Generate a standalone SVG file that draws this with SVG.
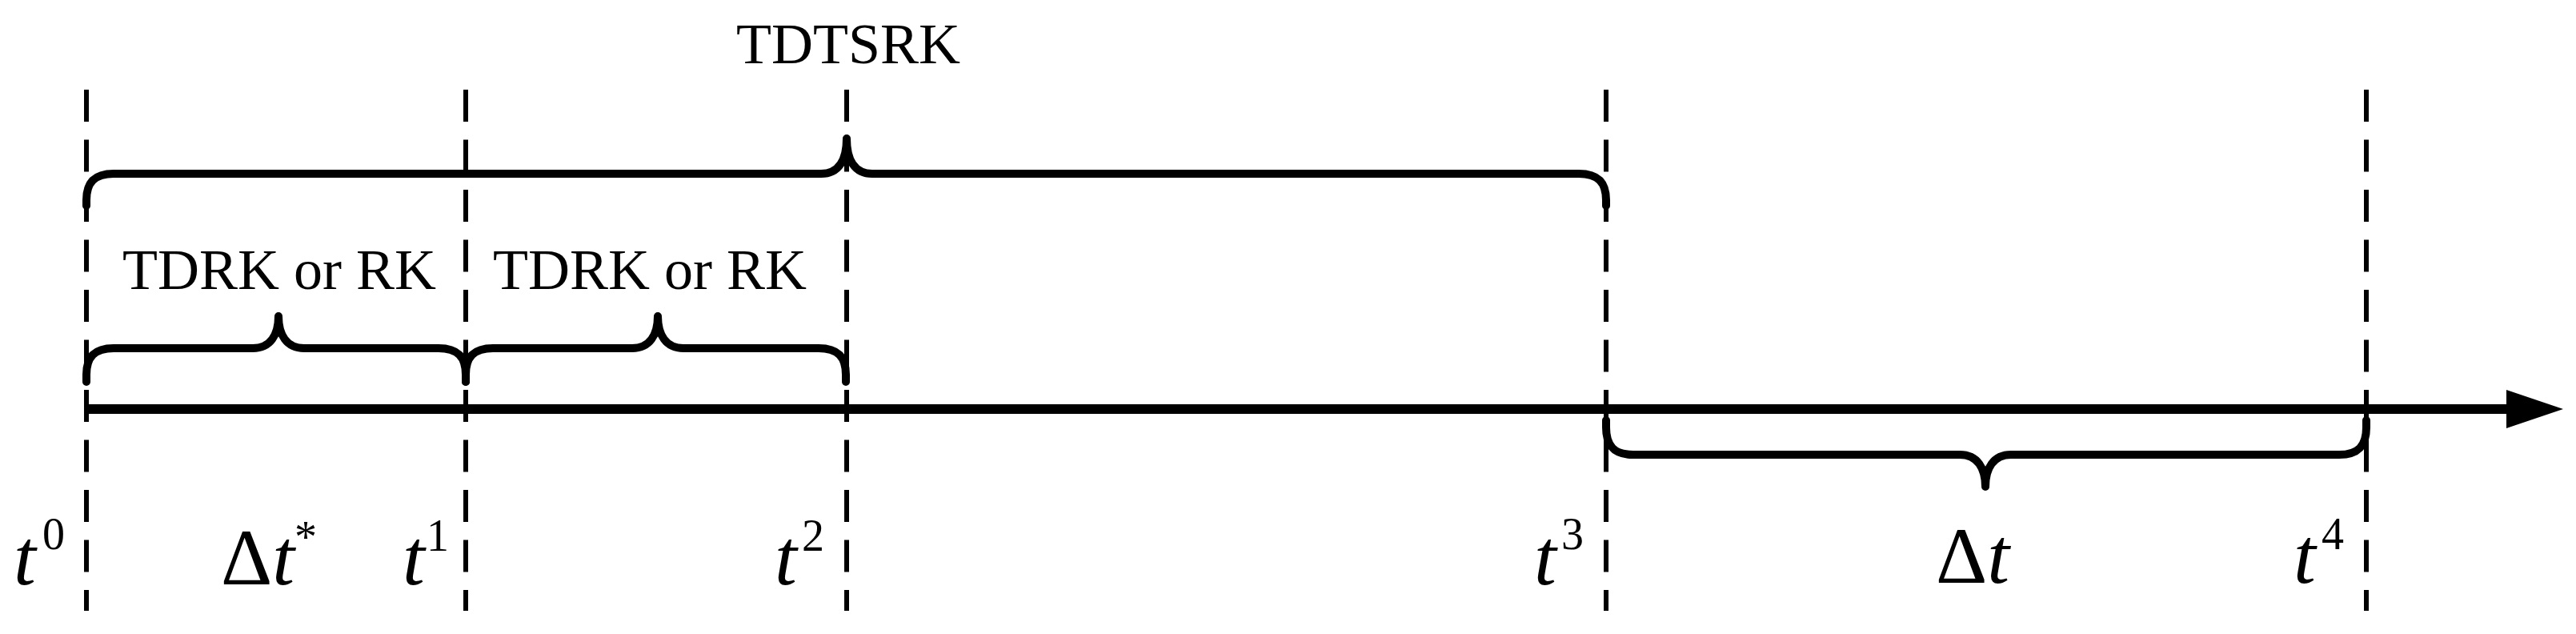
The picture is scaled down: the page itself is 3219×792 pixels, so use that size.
<svg xmlns="http://www.w3.org/2000/svg" width="3219" height="792" viewBox="0 0 3219 792">
<style>
.dash{stroke:#000;stroke-width:6;stroke-dasharray:40 22.5;fill:none}
.brace{stroke:#000;stroke-width:10;fill:none;stroke-linecap:round;stroke-linejoin:round}
.lbl{font-family:"Liberation Serif","Times New Roman",serif;font-size:72px;fill:#000}
.sym{font-family:"Liberation Serif","Times New Roman",serif;font-size:100px;font-style:italic;fill:#000}
.delta{font-style:normal}
.sup{font-family:"Liberation Serif","Times New Roman",serif;font-size:56px;font-style:normal;fill:#000}
</style>
<defs>
<marker id="arrow" markerUnits="userSpaceOnUse" markerWidth="72" markerHeight="48" refX="0" refY="24" orient="auto">
<path d="M0,0 L71,24 L0,48 Z" fill="#000"/>
</marker>
</defs>
<rect width="3219" height="792" fill="#fff"/>
<g id="connectors">
<line class="dash" x1="108" y1="112" x2="108" y2="763"/>
<line class="dash" x1="582" y1="112" x2="582" y2="763"/>
<line class="dash" x1="1058" y1="112" x2="1058" y2="763"/>
<line class="dash" x1="2007" y1="112" x2="2007" y2="763"/>
<line class="dash" x1="2957" y1="112" x2="2957" y2="763"/>
<line id="axis" x1="108" y1="511" x2="3132" y2="511" stroke="#000" stroke-width="12" marker-end="url(#arrow)"/>
</g>
<g id="brace-tdtsrk">
<path class="brace" d="M108,257 L108,250 C108,228 118,217 142,217 L1026,217 C1048,217 1058,200 1058,173 C1058,200 1068,217 1090,217 L1973,217 C1997,217 2007,228 2007,250 L2007,257"/>
<text class="lbl" x="1060" y="79" text-anchor="middle">TDTSRK</text>
</g>
<g id="brace-rk1">
<path class="brace" d="M108,477 L108,468 C108,446 118,435 142,435 L316,435 C338,435 348,418 348,395 C348,418 358,435 380,435 L548,435 C572,435 582,446 582,468 L582,477"/>
<text class="lbl" x="349" y="361" text-anchor="middle">TDRK or RK</text>
</g>
<g id="brace-rk2">
<path class="brace" d="M582,477 L582,468 C582,446 592,435 616,435 L790,435 C812,435 822,418 822,395 C822,418 832,435 854,435 L1023,435 C1047,435 1057,446 1057,468 L1057,477"/>
<text class="lbl" x="812" y="361" text-anchor="middle">TDRK or RK</text>
</g>
<g id="brace-dt">
<path class="brace" d="M2007,525 L2007,534 C2007,557 2017,568 2041,568 L2449,568 C2471,568 2481,585 2481,608 C2481,585 2491,568 2513,568 L2923,568 C2947,568 2957,557 2957,534 L2957,525"/>
</g>
<g id="label-t0">
<text class="sym" x="17" y="730">t</text><text class="sup" x="53" y="686">0</text>
</g>
<g id="label-dtstar">
<text class="sym" x="276" y="730"><tspan class="delta">Δ</tspan>t</text><text class="sup" x="368" y="690">*</text>
</g>
<g id="label-t1">
<text class="sym" x="503" y="730">t</text><text class="sup" x="533" y="688">1</text>
</g>
<g id="label-t2">
<text class="sym" x="968" y="730">t</text><text class="sup" x="1002" y="688">2</text>
</g>
<g id="label-t3">
<text class="sym" x="1917" y="730">t</text><text class="sup" x="1951" y="686">3</text>
</g>
<g id="label-t4">
<text class="sym" x="2866" y="728">t</text><text class="sup" x="2901" y="686">4</text>
</g>
<g id="label-dt">
<text class="sym" x="2419" y="728"><tspan class="delta">Δ</tspan>t</text>
</g>
</svg>
